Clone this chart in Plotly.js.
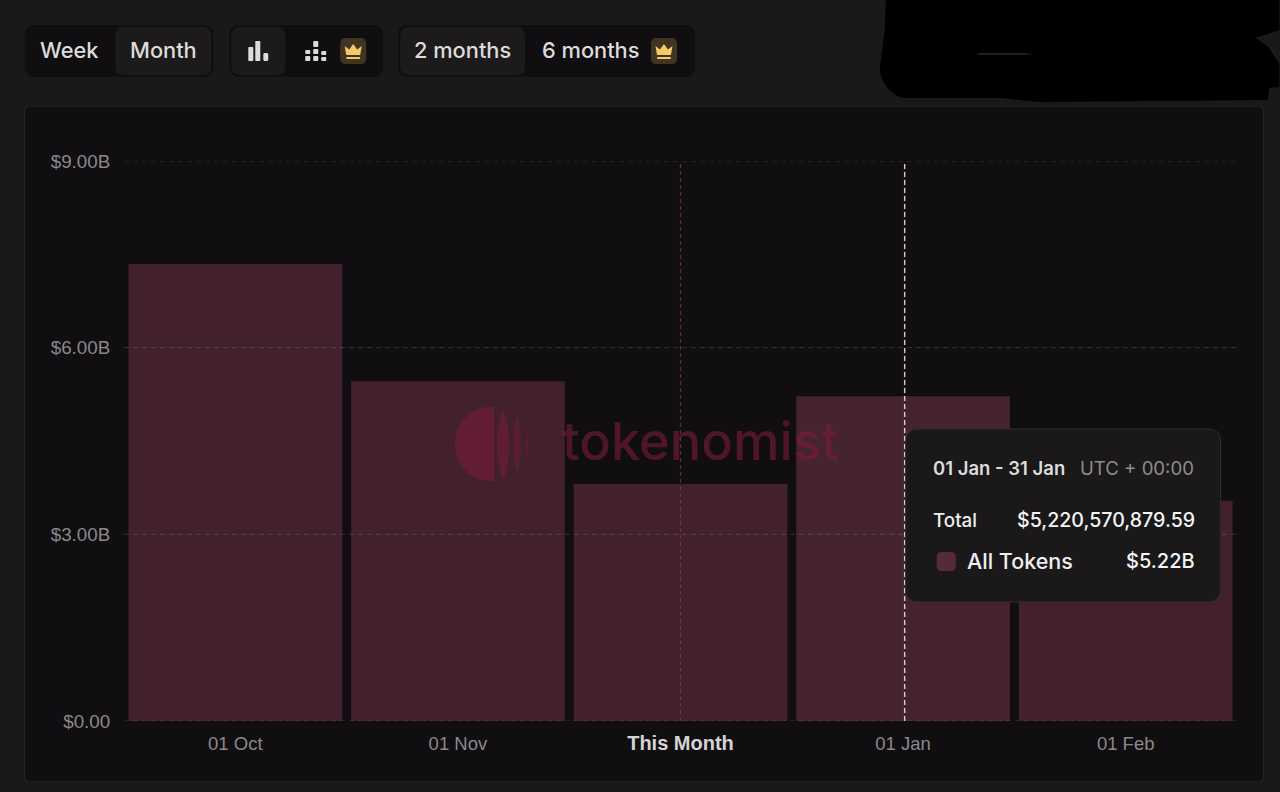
<!DOCTYPE html>
<html>
<head>
<meta charset="utf-8">
<script src="https://cdn.plot.ly/plotly-3.0.1.min.js"></script>
<style>html,body{margin:0;padding:0;background:#1a1819;overflow:hidden}#chart{width:1280px;height:792px}</style>
</head>
<body>
<div id="chart"></div>
<script>
// ---- data ----
const categories = ['01 Oct', '01 Nov', 'This Month', '01 Jan', '01 Feb'];
const tickLabels = ['01 Oct', '01 Nov', '<span style="font-size:20px;color:#d6d3d4"><b>This Month</b></span>', '01 Jan', '01 Feb'];
const unlockValues = [7.345e9, 5.46e9, 3.81e9, 5220570879.59, 3.54e9];
const barColors = ['#42202e', '#42202e', '#42202e', '#452331', '#42202e'];
const yTickVals = [0, 3e9, 6e9, 9e9];
const yTickText = ['$0.00', '$3.00B', '$6.00B', '$9.00B'];
const currentCategory = 'This Month';
const hoveredCategory = '01 Jan';
const tooltipRange = '01 Jan - 31 Jan';
const tooltipZone = 'UTC + 00:00';
const tooltipTotalLabel = 'Total';
const tooltipTotal = '$5,220,570,879.59';
const tooltipSeries = 'All Tokens';
const tooltipSeriesValue = '$5.22B';

// ---- layout helpers (page chrome, in pixels of the 1280x792 page) ----
const L = 123.6, R = 1237.5, T = 161, B = 721;
const X = p => (p - L) / (R - L);
const Y = p => 1 - (p - T) / (B - T);
const pt = (x, y) => X(x).toFixed(5) + ',' + Y(y).toFixed(5);
function rr(x0, y0, x1, y1, r, fill, line, layer) {
  const k = r * 0.45;
  const path = 'M' + pt(x0 + r, y0) + 'L' + pt(x1 - r, y0) +
    'C' + pt(x1 - k, y0) + ' ' + pt(x1, y0 + k) + ' ' + pt(x1, y0 + r) +
    'L' + pt(x1, y1 - r) +
    'C' + pt(x1, y1 - k) + ' ' + pt(x1 - k, y1) + ' ' + pt(x1 - r, y1) +
    'L' + pt(x0 + r, y1) +
    'C' + pt(x0 + k, y1) + ' ' + pt(x0, y1 - k) + ' ' + pt(x0, y1 - r) +
    'L' + pt(x0, y0 + r) +
    'C' + pt(x0, y0 + k) + ' ' + pt(x0 + k, y0) + ' ' + pt(x0 + r, y0) + 'Z';
  return {type: 'path', xref: 'paper', yref: 'paper', path, fillcolor: fill,
    line: {color: line || 'rgba(0,0,0,0)', width: line ? 1 : 0}, layer: layer || 'below'};
}
function poly(points, fill, layer) {
  return {type: 'path', xref: 'paper', yref: 'paper',
    path: 'M' + points.map(p => pt(p[0], p[1])).join('L') + 'Z',
    fillcolor: fill, line: {width: 0}, layer: layer || 'below'};
}
function curve(d, fill, layer) {
  let s = '';
  d.forEach(c => {
    s += c[0];
    const q = [];
    for (let i = 1; i < c.length; i += 2) q.push(pt(c[i], c[i + 1]));
    s += q.join(' ');
  });
  return {type: 'path', xref: 'paper', yref: 'paper', path: s + 'Z',
    fillcolor: fill, line: {width: 0}, layer: layer || 'below'};
}
function crown(cx, cy) {
  const c = '#f5c96a';
  return [
    rr(cx - 13, cy - 13, cx + 13, cy + 13, 5, '#3f3522'),
    poly([[cx - 8.5, cy - 5], [cx - 4, cy - 1.5], [cx, cy - 7], [cx + 4, cy - 1.5], [cx + 8.5, cy - 5], [cx + 7, cy + 4], [cx - 7, cy + 4]], c),
    rr(cx - 7, cy + 6, cx + 7, cy + 8, 1, c)
  ];
}
const icon = '#dedbdc';
const gridLines = yTickVals.map(v => ({
  type: 'line', xref: 'paper', yref: 'y', x0: 0, x1: 1, y0: v, y1: v,
  line: {color: 'rgba(255,255,255,0.15)', width: 1, dash: '5px,4px'}, layer: 'above'
}));
const shapes = [
  // main panel
  rr(24, 106, 1264, 782, 5, '#100e11', '#262426'),
  // button groups
  rr(24, 25, 213, 77, 9, '#100e11'),
  rr(115, 27, 211, 75, 8, '#1c1a1b'),
  rr(229, 25, 383, 77, 9, '#100e11'),
  rr(231, 27, 285, 75, 8, '#1c1a1b'),
  rr(398, 25, 695, 77, 9, '#100e11'),
  rr(400, 27, 525, 75, 8, '#1c1a1b'),
  // bar-chart icon
  rr(248, 47, 253, 61, 1, icon), rr(255, 41, 260, 61, 1, icon), rr(263, 53, 268, 61, 1.5, icon),
  // stacked-bar icon
  rr(305, 50, 310, 54, 1, icon), rr(305, 56, 310, 61, 1, icon),
  rr(313, 41, 318, 47, 1, icon), rr(313, 49, 318, 54, 1, icon), rr(313, 56, 318, 61, 1, icon),
  rr(321, 51, 326, 55, 1, icon), rr(321, 57, 326, 61, 1, icon),
  ...crown(353, 51),
  ...crown(664, 51),
  // redaction blob
  curve([['M', 886, 0], ['L', 1280, 0], ['L', 1280, 30], ['L', 1256, 38], ['L', 1268, 46], ['L', 1280, 64], ['L', 1280, 87], ['L', 1270, 88], ['L', 1268, 100],
    ['L', 1040, 102], ['L', 1000, 98], ['L', 905, 98], ['C', 890, 96, 880, 80, 880, 68], ['L', 885, 30]], '#000000'),
  poly([[978, 53.5], [1025, 53.5], [1036, 54], [1025, 54.5], [978, 54.5]], 'rgba(150,150,150,0.4)'),
  // grid
  ...gridLines,
  // current-month and hovered-month guide lines
  {type: 'line', xref: 'x', yref: 'paper', x0: currentCategory, x1: currentCategory, y0: 0, y1: 1,
    line: {color: 'rgba(140,55,85,0.7)', width: 1.2, dash: '4px,3px'}, layer: 'above'},
  {type: 'line', xref: 'x', yref: 'paper', x0: hoveredCategory, x1: hoveredCategory, x0shift: 0.007, x1shift: 0.007, y0: 0, y1: 1,
    line: {color: '#d9cfd3', width: 1.4, dash: '5px,3px'}, layer: 'above'},
  // watermark logo
  curve([['M', 494, 407], ['C', 470, 405, 455, 424, 455, 444], ['C', 455, 464, 470, 483, 494, 481]], 'rgba(125,28,60,0.58)', 'above'),
  curve([['M', 503, 410], ['C', 495, 425, 495, 463, 503, 480], ['C', 511, 463, 511, 425, 503, 410]], 'rgba(125,28,60,0.5)', 'above'),
  curve([['M', 517, 417], ['C', 512, 430, 512, 458, 517, 473], ['C', 522, 458, 522, 430, 517, 417]], 'rgba(125,28,60,0.42)', 'above'),
  curve([['M', 527, 433], ['C', 524.5, 440, 524.5, 450, 527, 457], ['C', 529.5, 450, 529.5, 440, 527, 433]], 'rgba(125,28,60,0.3)', 'above'),
  // tooltip box
  rr(906, 429, 1221, 602, 11, '#1a1819', '#302e30', 'above'),
  rr(937, 552, 956, 571, 4, '#552a3b', null, 'above')
];

function txt(x, y, text, size, color, anchor, weight) {
  return {xref: 'paper', yref: 'paper', x: X(x), y: Y(y), text, showarrow: false,
    xanchor: anchor || 'left', yanchor: 'middle', borderpad: 0,
    font: {size, color, family: 'Inter, sans-serif', weight: weight || 400}};
}
const annotations = [
  txt(39, 50.5, 'Week', 21.8, '#dedbdc', 'left', 500),
  txt(129, 50.5, 'Month', 21.8, '#dedbdc', 'left', 500),
  txt(413, 50.5, '2 months', 21.8, '#dedbdc', 'left', 500),
  txt(541, 50.5, '6 months', 21.8, '#dedbdc', 'left', 500),
  txt(561, 441, 'tokenomist', 52.4, 'rgba(125,28,60,0.58)', 'left', 500),
  txt(932, 468, tooltipRange, 18.5, '#dedbdc', 'left', 600),
  txt(1195, 468, tooltipZone, 18.6, '#8f8c8e', 'right'),
  txt(932, 520, tooltipTotalLabel, 18.8, '#eeeeee', 'left', 500),
  txt(1196, 520, tooltipTotal, 19.6, '#f4f4f4', 'right', 500),
  txt(966, 561, tooltipSeries, 21.5, '#eeeeee', 'left', 500),
  txt(1196, 561, tooltipSeriesValue, 20, '#f4f4f4', 'right', 500)
];

Plotly.newPlot('chart', [{
  type: 'bar',
  x: categories,
  y: unlockValues,
  marker: {color: barColors, line: {width: 0}},
  hoverinfo: 'none',
  showlegend: false
}], {
  width: 1280, height: 792,
  margin: {l: L, r: 1280 - R, t: T, b: 792 - B, pad: 0},
  paper_bgcolor: '#1a1819',
  plot_bgcolor: 'rgba(0,0,0,0)',
  bargap: 0.04,
  showlegend: false,
  font: {family: 'Liberation Sans, Arial, sans-serif', color: '#8b888a', size: 18.5},
  xaxis: {
    type: 'category', categoryorder: 'array', categoryarray: categories,
    tickmode: 'array', tickvals: categories, ticktext: tickLabels,
    showgrid: false, zeroline: false, showline: false, ticks: 'outside', ticklen: 6, tickcolor: 'rgba(0,0,0,0)',
    tickfont: {size: 18.5, color: '#8b888a'}
  },
  yaxis: {
    range: [0, 9e9], tickmode: 'array', tickvals: yTickVals, ticktext: yTickText,
    showgrid: false, zeroline: false, showline: false, ticks: 'outside', ticklen: 9, tickcolor: 'rgba(0,0,0,0)',
    tickfont: {size: 18.8, color: '#8b888a'}
  },
  shapes, annotations
}, {displayModeBar: false, staticPlot: true});
</script>
</body>
</html>
